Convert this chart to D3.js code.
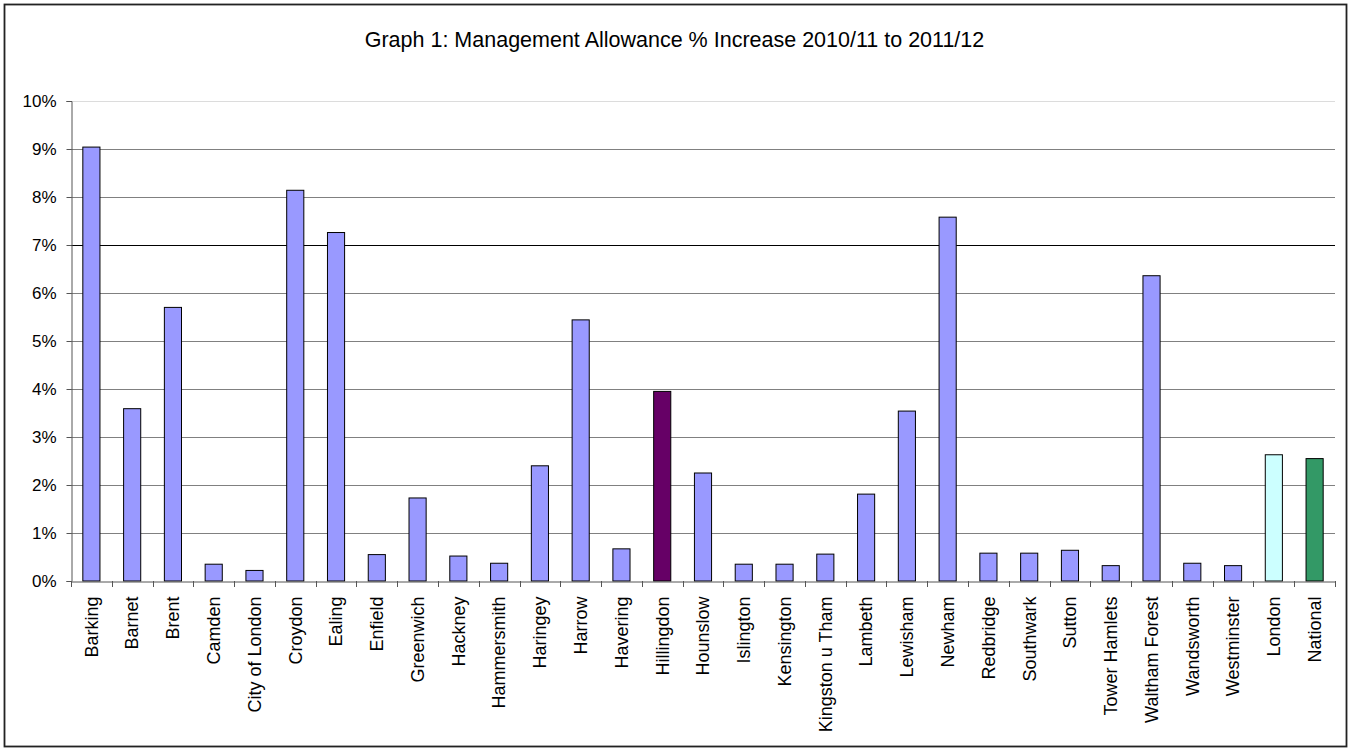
<!DOCTYPE html>
<html>
<head>
<meta charset="utf-8">
<script src="https://cdn.jsdelivr.net/npm/d3@7"></script>
<style>
  html, body { margin: 0; padding: 0; background: #fff; }
  svg { display: block; font-family: "Liberation Sans", Arial, sans-serif; }
</style>
</head>
<body>
<svg id="chart" width="1351" height="749"></svg>
<script>
const categories = ["Barking","Barnet","Brent","Camden","City of London","Croydon","Ealing","Enfield","Greenwich","Hackney","Hammersmith","Haringey","Harrow","Havering","Hillingdon","Hounslow","Islington","Kensington","Kingston u Tham","Lambeth","Lewisham","Newham","Redbridge","Southwark","Sutton","Tower Hamlets","Waltham Forest","Wandsworth","Westminster","London","National"];
const values = [9.04,3.59,5.70,0.35,0.22,8.14,7.26,0.55,1.73,0.52,0.37,2.40,5.44,0.67,3.95,2.25,0.35,0.35,0.56,1.81,3.54,7.58,0.58,0.58,0.64,0.32,6.36,0.37,0.32,2.63,2.55];
const yTicks = [0,1,2,3,4,5,6,7,8,9,10];
const title = "Graph 1: Management Allowance % Increase 2010/11 to 2011/12";
const highlight = {"Hillingdon": "#660066", "London": "#CCFFFF", "National": "#339966"};
const baseColor = "#9999FF";

const svg = d3.select("#chart");
const W = 1351, H = 749;
const m = {left: 71, right: 1335, top: 101, bottom: 581};
const FONT = "Liberation Sans, Arial, sans-serif";

svg.append("rect").attr("x", 4.5).attr("y", 4.5).attr("width", W - 9).attr("height", H - 7)
  .attr("fill", "#fff").attr("stroke", "#222").attr("stroke-width", 1.8);

const x = d3.scaleBand().domain(categories).range([m.left, m.right]).paddingInner(0.58).paddingOuter(0.29);
const xb = d3.scaleBand().domain(categories).range([m.left, m.right]);
const y = d3.scaleLinear().domain([0, 10]).range([m.bottom, m.top]);

// gridlines
svg.append("g").selectAll("line").data(yTicks.filter(d => d > 0)).join("line")
  .attr("x1", m.left).attr("x2", m.right)
  .attr("y1", d => Math.round(y(d)) + 0.5).attr("y2", d => Math.round(y(d)) + 0.5)
  .attr("stroke", d => d === 10 ? "#dcdcdc" : (d === 7 ? "#000" : "#808080"))
  .attr("stroke-width", 1);

// title
svg.append("text").attr("x", W / 2 - 1).attr("y", 47).attr("text-anchor", "middle")
  .attr("font-size", 21.5).attr("fill", "#000").attr("font-family", FONT).text(title);

// bars
svg.append("g").selectAll("rect").data(categories).join("rect")
  .attr("x", d => x(d)).attr("width", x.bandwidth())
  .attr("y", (d, i) => y(values[i])).attr("height", (d, i) => y(0) - y(values[i]))
  .attr("fill", d => highlight[d] || baseColor)
  .attr("stroke", "#000").attr("stroke-width", 1);

// y axis
const yAxis = svg.append("g").attr("transform", `translate(${m.left + 0.5},0)`)
  .call(d3.axisLeft(y).tickValues(yTicks).tickFormat(d => d + "%").tickSize(5).tickPadding(10));
yAxis.select(".domain").attr("stroke", "#555");
yAxis.selectAll(".tick line").attr("stroke", "#555");
yAxis.selectAll("text").attr("font-size", 17).attr("fill", "#000").attr("font-family", FONT);

// x axis
const xAxis = svg.append("g").attr("transform", `translate(0,${m.bottom + 0.5})`)
  .call(d3.axisBottom(xb).tickSize(0).tickFormat(d => d));
xAxis.select(".domain").attr("stroke", "#555");
xAxis.selectAll(".tick text")
  .attr("transform", "rotate(-90)")
  .attr("x", -15).attr("y", 0).attr("dy", "0.35em")
  .attr("text-anchor", "end")
  .attr("font-size", 18).attr("fill", "#000").attr("font-family", FONT);
// boundary ticks
const bounds = categories.map(c => xb(c)).concat([m.right]);
svg.append("g").selectAll("line").data(bounds).join("line")
  .attr("x1", d => Math.round(d) + 0.5).attr("x2", d => Math.round(d) + 0.5)
  .attr("y1", m.bottom).attr("y2", m.bottom + 6)
  .attr("stroke", "#555");
</script>
</body>
</html>
